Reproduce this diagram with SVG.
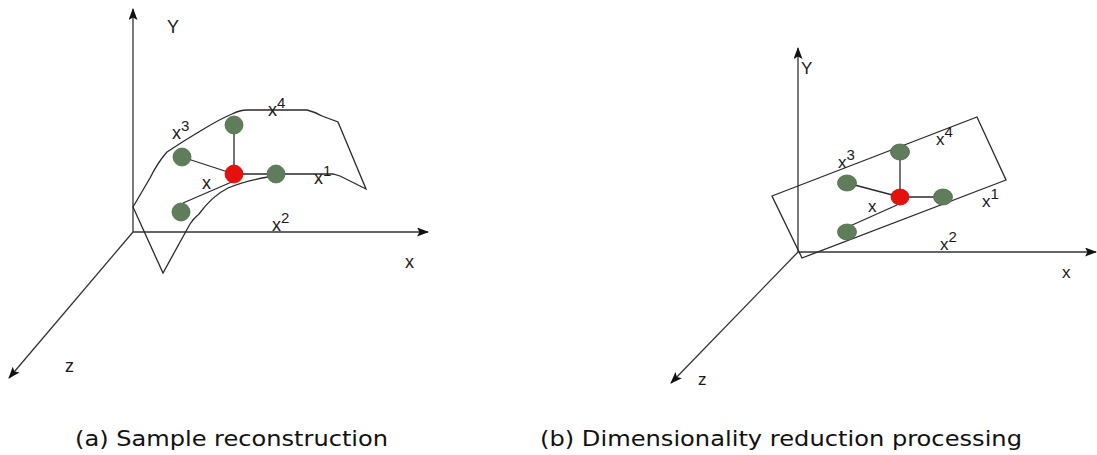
<svg xmlns="http://www.w3.org/2000/svg" width="1097" height="455" viewBox="0 0 1097 455">
<style>
.ln{stroke:#2a2a2a;stroke-width:1.3;fill:none}
.ax{stroke:#333;stroke-width:1.3;fill:none}
.g{fill:#5f7d5b;stroke:#4f6b4c;stroke-width:0.8}
.r{fill:#e5110c;stroke:#cc0d08;stroke-width:0.8}
.lb{font-family:"Liberation Sans",Arial,sans-serif;font-size:18px;fill:#1a1a1a}
.lb2{font-family:"Liberation Sans",Arial,sans-serif;font-size:17px;fill:#1a1a1a}
.sp{font-size:15px}
.cap{font-family:"DejaVu Sans",Verdana,sans-serif;font-size:21px;fill:#111}
</style>
<defs>
<marker id="ah" viewBox="0 0 12 9" refX="11" refY="4.5" markerWidth="12" markerHeight="9" markerUnits="userSpaceOnUse" orient="auto">
<path d="M0,0 L12,4.5 L0,9 L2.5,4.5 Z" fill="#111"/>
</marker>
</defs>
<rect width="1097" height="455" fill="#fff"/>

<g id="panel-a">
<g id="connectors-a">
<line class="ax" x1="133" y1="232" x2="133" y2="9" marker-end="url(#ah)"/>
<line class="ax" x1="133" y1="232" x2="428" y2="232" marker-end="url(#ah)"/>
<line class="ax" x1="133" y1="232" x2="9" y2="378" marker-end="url(#ah)"/>
<path class="ln" d="M133,207 L150,178 Q158,162 167,152 Q185,140 202,130 Q220,119 232,114 Q240,110 247,110 L307,110 Q315,112 322,116 L338,122 L366,189 L340,176 L333,174 L285,174"/>
<path class="ln" d="M268,177 Q245,181 228,188 Q212,196 199,214 Q193,219 190,224 L163,273 L133,207"/>
<line class="ln" x1="234" y1="125" x2="234" y2="174"/>
<line class="ln" x1="182" y1="157" x2="234" y2="174"/>
<line class="ln" x1="234" y1="174" x2="276" y2="174"/>
<line class="ln" x1="234" y1="181" x2="183" y2="203"/>
</g>
<g id="a-x"><circle class="r" cx="234" cy="174" r="9"/></g>
<g id="a-x1"><circle class="g" cx="276" cy="174" r="9"/></g>
<g id="a-x2"><circle class="g" cx="181" cy="212" r="9"/></g>
<g id="a-x3"><circle class="g" cx="182" cy="157" r="9"/></g>
<g id="a-x4"><circle class="g" cx="234" cy="125" r="9"/></g>
<text class="lb" x="167" y="33">Y</text>
<text class="lb" x="405" y="268">x</text>
<text class="lb" x="65" y="372">z</text>
<text class="lb" x="172" y="139">x<tspan class="sp" dy="-8">3</tspan></text>
<text class="lb" x="268" y="116">x<tspan class="sp" dy="-8">4</tspan></text>
<text class="lb" x="314" y="184">x<tspan class="sp" dy="-8">1</tspan></text>
<text class="lb" x="202" y="189">x</text>
<text class="lb" x="272" y="231">x<tspan class="sp" dy="-8">2</tspan></text>
</g>

<g id="panel-b">
<g id="connectors-b">
<line class="ax" x1="798" y1="252" x2="798" y2="48" marker-end="url(#ah)"/>
<line class="ax" x1="798" y1="252" x2="1096" y2="252" marker-end="url(#ah)"/>
<line class="ax" x1="798" y1="252" x2="671" y2="383" marker-end="url(#ah)"/>
<polygon class="ln" points="772,196 977,117 1006,180 802,258"/>
<line class="ln" x1="900" y1="152" x2="900" y2="197"/>
<line class="ln" x1="847" y1="183" x2="900" y2="197"/>
<line class="ln" x1="900" y1="197" x2="943" y2="197"/>
<line class="ln" x1="897" y1="205" x2="850" y2="226"/>
</g>
<g id="b-x"><ellipse class="r" cx="900" cy="197" rx="9" ry="8"/></g>
<g id="b-x1"><ellipse class="g" cx="943" cy="197" rx="9.5" ry="8"/></g>
<g id="b-x2"><ellipse class="g" cx="847" cy="232" rx="9.5" ry="8"/></g>
<g id="b-x3"><ellipse class="g" cx="847" cy="183" rx="9.5" ry="8"/></g>
<g id="b-x4"><ellipse class="g" cx="900" cy="152" rx="9.5" ry="8"/></g>
<text class="lb2" x="801" y="74">Y</text>
<text class="lb2" x="1062" y="278">x</text>
<text class="lb2" x="698" y="385">z</text>
<text class="lb2" x="838" y="168">x<tspan class="sp" dy="-8">3</tspan></text>
<text class="lb2" x="936" y="145">x<tspan class="sp" dy="-8">4</tspan></text>
<text class="lb2" x="982" y="207">x<tspan class="sp" dy="-8">1</tspan></text>
<text class="lb2" x="868" y="212">x</text>
<text class="lb2" x="940" y="250">x<tspan class="sp" dy="-8">2</tspan></text>
</g>

<text class="cap" x="75" y="446" textLength="313" lengthAdjust="spacingAndGlyphs">(a) Sample reconstruction</text>
<text class="cap" x="540" y="446" textLength="482" lengthAdjust="spacingAndGlyphs">(b) Dimensionality reduction processing</text>
</svg>
